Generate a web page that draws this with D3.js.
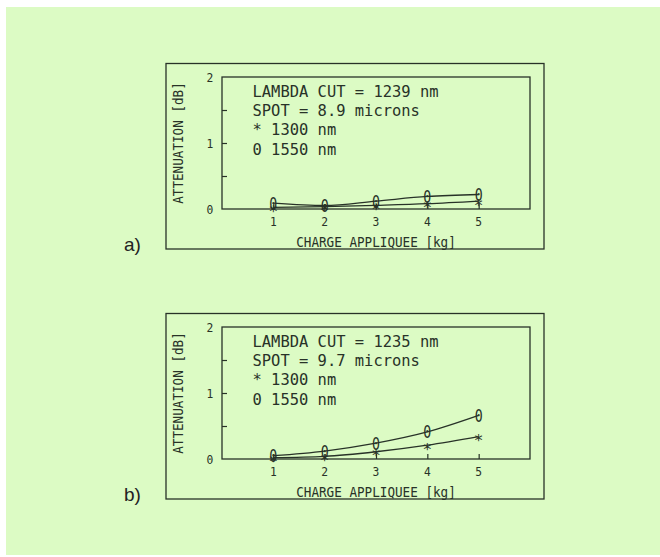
<!DOCTYPE html>
<html>
<head>
<meta charset="utf-8">
<script src="https://cdn.jsdelivr.net/npm/d3@7"></script>
<style>
  html, body { margin: 0; padding: 0; background: #ffffff; }
  svg { display: block; }
</style>
</head>
<body>
<svg id="chart" width="660" height="557"></svg>
<script>
// charge appliquee (kg)
const loads = [1, 2, 3, 4, 5]

// attenuation (dB), panel a
const a1300 = [0.025, 0.035, 0.055, 0.08, 0.12]
const a1550 = [0.09, 0.055, 0.12, 0.19, 0.22]

// attenuation (dB), panel b
const b1300 = [0.02, 0.04, 0.11, 0.21, 0.34]
const b1550 = [0.05, 0.12, 0.24, 0.41, 0.66]

const yTickLabels = [0, 1, 2]
const legendA = ['LAMBDA CUT = 1239 nm', 'SPOT = 8.9 microns', '* 1300 nm', '0 1550 nm']
const legendB = ['LAMBDA CUT = 1235 nm', 'SPOT = 9.7 microns', '* 1300 nm', '0 1550 nm']

const ink = '#283228'
const mono = '"DejaVu Sans Mono", "Liberation Mono", monospace'

const svg = d3.select('#chart')

// paper background
svg.append('rect')
	.attr('x', 6).attr('y', 7)
	.attr('width', 654).attr('height', 548)
	.attr('fill', '#dcfbc4')

const x = d3.scaleLinear().domain([0, 6]).range([222, 530])
const y = d3.scaleLinear().domain([0, 2]).range([209, 77])

// plotter-like text: tall glyphs squeezed to a fixed advance per char
function plotText(sel, size, adv) {
	return sel
		.attr('font-family', mono)
		.attr('font-size', size)
		.attr('fill', ink)
		.attr('lengthAdjust', 'spacingAndGlyphs')
		.attr('textLength', d => String(d).length * adv)
		.text(d => d)
}

function drawPanel(offsetY, letter, legend, s1300, s1550) {
	const g = svg.append('g').attr('transform', `translate(0,${offsetY})`)

	// outer frame
	g.append('rect')
		.attr('x', 166).attr('y', 63.5)
		.attr('width', 378).attr('height', 185.5)
		.attr('fill', 'none')
		.attr('stroke', ink)
		.attr('stroke-width', 1.3)

	// plot box
	g.append('rect')
		.attr('x', x(0)).attr('y', y(2))
		.attr('width', x(6) - x(0)).attr('height', y(0) - y(2))
		.attr('fill', 'none')
		.attr('stroke', ink)
		.attr('stroke-width', 1.3)

	// inner y ticks every 0.5
	const yAxis = d3.axisRight(y)
		.tickValues([0.5, 1, 1.5])
		.tickSize(5)
		.tickFormat('')
	g.append('g')
		.attr('transform', `translate(${x(0)},0)`)
		.call(yAxis)
		.call(a => a.select('.domain').remove())
		.call(a => a.selectAll('line').attr('stroke', ink).attr('stroke-width', 1.2))

	// y tick labels
	g.selectAll('.ylab')
		.data(yTickLabels)
		.enter().append('text')
		.attr('x', 210)
		.attr('y', d => y(d) + 4.5)
		.attr('text-anchor', 'middle')
		.call(plotText, 12.5, 6.8)

	// x ticks pointing up, labels below
	const xAxis = d3.axisTop(x)
		.tickValues(loads)
		.tickSize(5)
		.tickFormat('')
	g.append('g')
		.attr('transform', `translate(0,${y(0)})`)
		.call(xAxis)
		.call(a => a.select('.domain').remove())
		.call(a => a.selectAll('line').attr('stroke', ink).attr('stroke-width', 1.2))

	g.selectAll('.xlab')
		.data(loads)
		.enter().append('text')
		.attr('x', d => x(d))
		.attr('y', y(0) + 16.5)
		.attr('text-anchor', 'middle')
		.call(plotText, 12.5, 6.8)

	// axis titles
	g.append('text')
		.datum('CHARGE APPLIQUEE [kg]')
		.attr('x', (x(0) + x(6)) / 2)
		.attr('y', 246.5)
		.attr('text-anchor', 'middle')
		.call(plotText, 14, 7.6)

	g.append('text')
		.datum('ATTENUATION [dB]')
		.attr('transform', `translate(182.5,${y(1)}) rotate(-90)`)
		.attr('text-anchor', 'middle')
		.call(plotText, 14, 7.6)

	// legend block
	g.selectAll('.leg')
		.data(legend)
		.enter().append('text')
		.attr('x', 252.5)
		.attr('y', (d, i) => 97 + i * 19.2)
		.call(plotText, 16.5, 9.3)

	// curves
	const line = d3.line()
		.x((d, i) => x(loads[i]))
		.y(d => y(d))
		.curve(d3.curveMonotoneX)

	;[s1300, s1550].forEach(s => {
		g.append('path')
			.attr('d', line(s))
			.attr('fill', 'none')
			.attr('stroke', ink)
			.attr('stroke-width', 1.3)
	})

	// markers: * for 1300 nm, 0 for 1550 nm
	g.selectAll('.m1300')
		.data(s1300)
		.enter().append('text')
		.attr('x', (d, i) => x(loads[i]))
		.attr('y', d => y(d) + 9.5)
		.attr('text-anchor', 'middle')
		.attr('font-family', mono)
		.attr('font-size', 16)
		.attr('fill', ink)
		.text('*')

	g.selectAll('.m1550')
		.data(s1550)
		.enter().append('text')
		.attr('x', (d, i) => x(loads[i]))
		.attr('y', d => y(d) + 6.5)
		.attr('text-anchor', 'middle')
		.attr('font-family', mono)
		.attr('font-size', 18)
		.attr('fill', ink)
		.attr('lengthAdjust', 'spacingAndGlyphs')
		.attr('textLength', 8)
		.text('0')

	// panel letter
	g.append('text')
		.attr('x', 124)
		.attr('y', 251)
		.attr('font-family', '"Liberation Sans", Arial, sans-serif')
		.attr('font-size', 19)
		.attr('fill', '#222')
		.text(letter)
}

drawPanel(0, 'a)', legendA, a1300, a1550)
drawPanel(250, 'b)', legendB, b1300, b1550)
</script>
</body>
</html>
